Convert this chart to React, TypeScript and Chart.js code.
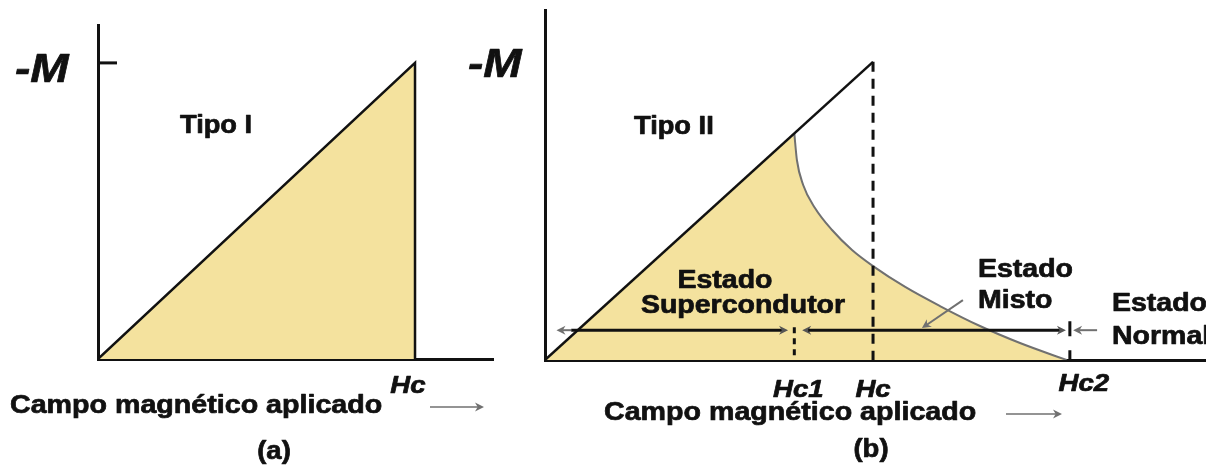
import { useEffect, useRef } from "react";
import { Chart, registerables } from "chart.js";

Chart.register(...registerables);

const FILL = "#F4E29E";
const INK = "#111111";
const GREY = "#707070";
const HEAD = "#555555";
const FONT = '"Liberation Sans", Arial, sans-serif';

// Applied field in units of the thermodynamic critical field Hc,
// -M in units of -M(Hc).
const HC = 1;
const HC1 = 0.76;
const HC2 = 1.6;

// Tipo I: perfect diamagnetism up to Hc, then a sudden drop
const tipoIField = [0, HC, HC];
const tipoIMag = [0, 1, 0];

// Tipo II: Meissner line (continued up to Hc) and the mixed-state branch
const meissnerField = [0, HC];
const meissnerMag = [0, 1];
const mistoField = [0.76, 0.768, 0.787, 0.823, 0.875, 0.936, 1.0, 1.098, 1.204, 1.326, 1.448, 1.59];
const mistoMag = [0.76, 0.67, 0.587, 0.51, 0.436, 0.369, 0.315, 0.245, 0.181, 0.114, 0.057, 0];

// Tick labels on the field axis
const tickLabelsA = ["Hc"];
const tickLabelsB = ["Hc1", "Hc", "Hc2"];

// Level of the state-range arrows, in units of -M(Hc)
const RANGE_LEVEL = 0.1;

type Pt = { x: number; y: number };
const pts = (xs: number[], ys: number[]): Pt[] => xs.map((x, i) => ({ x, y: ys[i] }));

function text(
  ctx: CanvasRenderingContext2D,
  s: string,
  x: number,
  y: number,
  size: number,
  opts: { italic?: boolean; align?: "left" | "center" | "right"; stretch?: number } = {}
) {
  const stretch = opts.stretch ?? 1.14;
  ctx.save();
  ctx.font = `${opts.italic ? "italic " : ""}bold ${size}px ${FONT}`;
  ctx.fillStyle = INK;
  ctx.strokeStyle = INK;
  ctx.lineWidth = 0.7;
  ctx.lineJoin = "round";
  ctx.textBaseline = "alphabetic";
  ctx.textAlign = "left";
  const w = ctx.measureText(s).width * stretch;
  const align = opts.align ?? "left";
  const x0 = align === "center" ? x - w / 2 : align === "right" ? x - w : x;
  ctx.translate(x0, y);
  ctx.scale(stretch, 1);
  ctx.fillText(s, 0, 0);
  ctx.strokeText(s, 0, 0);
  ctx.restore();
}

function head(ctx: CanvasRenderingContext2D, x: number, y: number, angle: number, color: string, len = 9, half = 4.5) {
  ctx.save();
  ctx.translate(x, y);
  ctx.rotate(angle);
  ctx.fillStyle = color;
  ctx.beginPath();
  ctx.moveTo(0, 0);
  ctx.lineTo(-len, -half);
  ctx.lineTo(-len * 0.7, 0);
  ctx.lineTo(-len, half);
  ctx.closePath();
  ctx.fill();
  ctx.restore();
}

function segment(ctx: CanvasRenderingContext2D, x1: number, y1: number, x2: number, y2: number, color: string, width: number) {
  ctx.save();
  ctx.strokeStyle = color;
  ctx.lineWidth = width;
  ctx.lineCap = "butt";
  ctx.beginPath();
  ctx.moveTo(x1, y1);
  ctx.lineTo(x2, y2);
  ctx.stroke();
  ctx.restore();
}

function arrow(ctx: CanvasRenderingContext2D, x1: number, y1: number, x2: number, y2: number, color: string, width: number, headColor = color) {
  const a = Math.atan2(y2 - y1, x2 - x1);
  segment(ctx, x1, y1, x2 - Math.cos(a) * 6, y2 - Math.sin(a) * 6, color, width);
  head(ctx, x2, y2, a, headColor);
}

function baseOptions(xMax: number, yMax: number, padding: { left: number; right: number; top: number; bottom: number }) {
  const axis = (max: number) => ({
    type: "linear" as const,
    min: 0,
    max,
    z: 1,
    grid: { display: false, drawTicks: false },
    ticks: { display: false },
    border: { display: true, color: INK, width: 3 },
  });
  return {
    responsive: false,
    animation: false as const,
    events: [] as any[],
    layout: { padding },
    plugins: { legend: { display: false }, tooltip: { enabled: false } },
    elements: { point: { radius: 0 }, line: { tension: 0 } },
    scales: { x: axis(xMax), y: axis(yMax) },
  };
}

const labelsA = {
  id: "labelsA",
  afterDraw(chart: Chart) {
    const ctx = chart.ctx;
    const xs = chart.scales.x;
    text(ctx, "-M", 15, 82, 40, { italic: true, stretch: 1.15 });
    text(ctx, "Tipo I", 180, 133, 25, { stretch: 1.09 });
    text(ctx, tickLabelsA[0], xs.getPixelForValue(HC) - 7, 393, 24, { italic: true, align: "center", stretch: 1.15 });
    text(ctx, "Campo magnético aplicado", 10, 413, 25, { stretch: 1.145 });
    arrow(ctx, 430, 407, 484, 407, GREY, 1.6);
    text(ctx, "(a)", 274, 459, 25, { align: "center", stretch: 1.1 });
  },
};

const labelsB = {
  id: "labelsB",
  afterDraw(chart: Chart) {
    const ctx = chart.ctx;
    const xs = chart.scales.x;
    const ys = chart.scales.y;
    const px = (v: number) => xs.getPixelForValue(v);
    const py = (v: number) => ys.getPixelForValue(v);
    const yr = py(RANGE_LEVEL);

    // superconducting range
    segment(ctx, px(0.035) + 6, yr, px(0.08), yr, GREY, 2);
    head(ctx, px(0.035), yr, Math.PI, GREY);
    arrow(ctx, px(0.08), yr, px(HC1 - 0.019), yr, INK, 3, HEAD);
    // mixed-state range
    head(ctx, px(HC1 + 0.024), yr, Math.PI, HEAD);
    arrow(ctx, px(HC1 + 0.024) + 6, yr, px(HC2 - 0.012), yr, INK, 3, HEAD);
    // normal range
    arrow(ctx, px(HC2 + 0.083), yr, px(HC2 + 0.01), yr, GREY, 2);
    // pointer to the mixed-state curve
    arrow(ctx, px(1.274), py(0.201), px(1.149), py(0.107), GREY, 2);

    text(ctx, "-M", 28, 77, 40, { italic: true, stretch: 1.15 });
    text(ctx, "Tipo II", 194, 134, 25, { stretch: 1.09 });
    text(ctx, "Estado", 285, 288, 25, { align: "center" });
    text(ctx, "Supercondutor", 303, 313, 25, { align: "center" });
    text(ctx, "Estado", 538, 277, 25);
    text(ctx, "Misto", 538, 308, 25);
    text(ctx, "Estado", 672, 311, 25);
    text(ctx, "Normal", 672, 344, 25);

    text(ctx, tickLabelsB[0], px(HC1) + 4, 397, 24, { italic: true, align: "center", stretch: 1.15 });
    text(ctx, tickLabelsB[1], px(HC), 397, 24, { italic: true, align: "center", stretch: 1.15 });
    text(ctx, tickLabelsB[2], px(HC2) + 14, 391, 24, { italic: true, align: "center", stretch: 1.15 });

    text(ctx, "Campo magnético aplicado", 164, 420, 25, { stretch: 1.145 });
    arrow(ctx, 566, 414, 622, 414, GREY, 1.6);
    text(ctx, "(b)", 431, 457, 25, { align: "center", stretch: 1.1 });
  },
};

export default function App() {
  const refA = useRef<HTMLCanvasElement | null>(null);
  const refB = useRef<HTMLCanvasElement | null>(null);

  useEffect(() => {
    if (!refA.current || !refB.current) return;

    const chartA = new Chart(refA.current, {
      type: "line",
      data: {
        datasets: [
          {
            data: pts(tipoIField, tipoIMag),
            fill: "origin",
            backgroundColor: FILL,
            borderColor: INK,
            borderWidth: 2.5,
            order: 10,
          },
          {
            // -M(Hc) tick on the vertical axis
            data: pts([0, 0.06], [1, 1]),
            borderColor: INK,
            borderWidth: 3,
            fill: false,
            order: 1,
          },
        ],
      },
      options: baseOptions(1.246, 1.128, { left: 98, right: 7, top: 25, bottom: 109 }) as any,
      plugins: [labelsA],
    });

    const chartB = new Chart(refB.current, {
      type: "line",
      data: {
        datasets: [
          {
            // Meissner state below Hc1
            data: pts([0, HC1, HC1], [0, HC1, 0]),
            fill: "origin",
            backgroundColor: FILL,
            borderColor: FILL,
            borderWidth: 1.5,
            order: 30,
          },
          {
            // mixed state between Hc1 and Hc2
            data: pts(mistoField, mistoMag),
            fill: "origin",
            backgroundColor: FILL,
            borderColor: GREY,
            borderWidth: 2,
            cubicInterpolationMode: "monotone",
            order: 20,
          },
          {
            data: pts(meissnerField, meissnerMag),
            borderColor: INK,
            borderWidth: 2.5,
            fill: false,
            order: 5,
          },
          {
            data: pts([HC, HC], [1, 0]),
            borderColor: INK,
            borderWidth: 3,
            borderDash: [10, 7],
            fill: false,
            order: 4,
          },
          {
            data: pts([HC1, HC1], [0.11, 0]),
            borderColor: INK,
            borderWidth: 3,
            borderDash: [6, 5],
            fill: false,
            order: 4,
          },
          {
            data: pts([HC2, HC2], [0.13, 0]),
            borderColor: INK,
            borderWidth: 3,
            borderDash: [15, 14],
            fill: false,
            order: 4,
          },
        ],
      },
      options: baseOptions(2.015, 1.174, { left: 105, right: 0, top: 10, bottom: 108 }) as any,
      plugins: [labelsB],
    });

    return () => {
      chartA.destroy();
      chartB.destroy();
    };
  }, []);

  return (
    <div style={{ position: "fixed", left: 0, top: 0, width: 1206, height: 468, background: "#ffffff", overflow: "hidden" }}>
      <canvas ref={refA} width={500} height={468} style={{ position: "absolute", left: 0, top: 0, width: 500, height: 468 }} />
      <canvas ref={refB} width={766} height={468} style={{ position: "absolute", left: 440, top: 0, width: 766, height: 468 }} />
    </div>
  );
}
